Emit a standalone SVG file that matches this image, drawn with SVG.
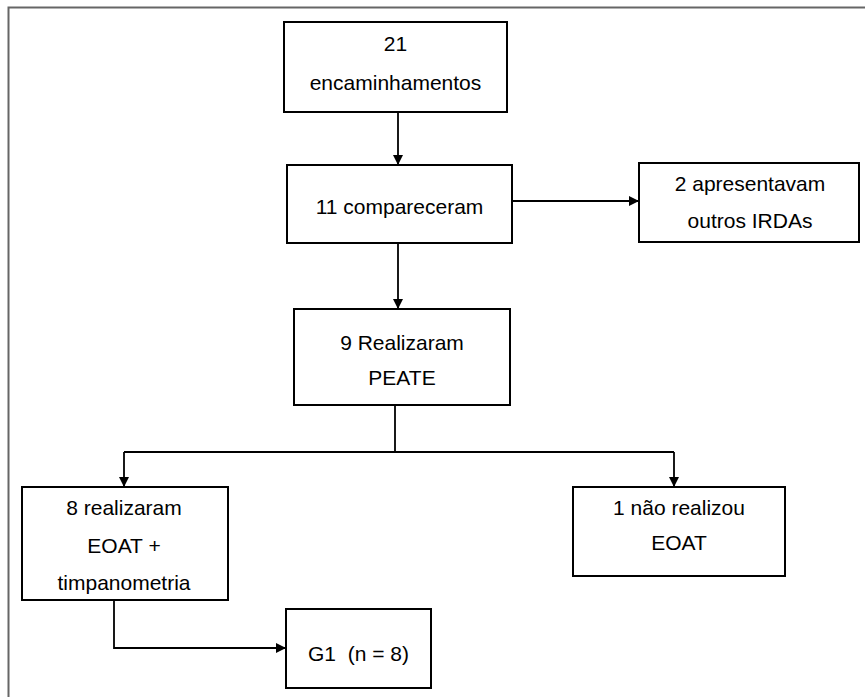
<svg xmlns="http://www.w3.org/2000/svg" width="865" height="697" viewBox="0 0 865 697">
<style>
.box{fill:#fff;stroke:#000;stroke-width:2}
.t{font-family:"Liberation Sans",Arial,sans-serif;font-size:21px;fill:#000;text-anchor:middle;white-space:pre}
.c{fill:none;stroke:#000;stroke-width:1.8}
.frame{fill:none;stroke:#666;stroke-width:2}
</style>
<defs>
<marker id="ah" viewBox="0 0 10 10" refX="10" refY="5" markerWidth="10" markerHeight="10" markerUnits="userSpaceOnUse" orient="auto">
<path d="M0,0 L10,5 L0,10 z" fill="#000"/>
</marker>
</defs>
<rect width="865" height="697" fill="#fff"/>
<path class="frame" d="M8.5,697 V7.5 H865"/>
<g id="connectors">
<line class="c" x1="398" y1="112" x2="398" y2="165" marker-end="url(#ah)"/>
<line class="c" x1="512" y1="201" x2="639" y2="201" marker-end="url(#ah)"/>
<line class="c" x1="398" y1="243" x2="398" y2="309" marker-end="url(#ah)"/>
<path class="c" d="M395,405 V452"/>
<path class="c" d="M124,452 H674"/>
<line class="c" x1="124" y1="452" x2="124" y2="487" marker-end="url(#ah)"/>
<line class="c" x1="674" y1="452" x2="674" y2="487" marker-end="url(#ah)"/>
<path class="c" d="M114,600 V648 H286" marker-end="url(#ah)"/>
</g>
<g id="n1">
<rect class="box" x="284" y="22" width="223" height="90"/>
<text class="t" x="395.5" y="50.5">21</text>
<text class="t" x="395.5" y="89.5">encaminhamentos</text>
</g>
<g id="n2">
<rect class="box" x="287" y="165" width="225" height="78"/>
<text class="t" x="399.5" y="214">11 compareceram</text>
</g>
<g id="n3">
<rect class="box" x="639" y="163" width="220" height="79"/>
<text class="t" x="750" y="190.5">2 apresentavam</text>
<text class="t" x="750" y="227.5">outros IRDAs</text>
</g>
<g id="n4">
<rect class="box" x="294" y="309" width="216" height="96"/>
<text class="t" x="402" y="349.5">9 Realizaram</text>
<text class="t" x="402" y="384.5">PEATE</text>
</g>
<g id="n5">
<rect class="box" x="22" y="487" width="206" height="113"/>
<text class="t" x="124" y="514.5">8 realizaram</text>
<text class="t" x="124" y="552.5">EOAT +</text>
<text class="t" x="124" y="589.5">timpanometria</text>
</g>
<g id="n6">
<rect class="box" x="573" y="487" width="212" height="89"/>
<text class="t" x="679" y="514.5">1 não realizou</text>
<text class="t" x="679" y="549.5">EOAT</text>
</g>
<g id="n7">
<rect class="box" x="286" y="609" width="145" height="79"/>
<text class="t" x="358.5" y="660.5">G1  (n = 8)</text>
</g>
</svg>
